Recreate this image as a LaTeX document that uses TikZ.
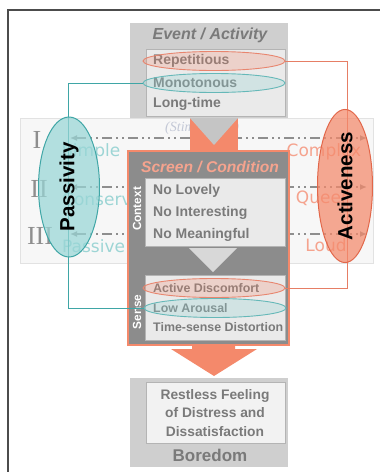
\documentclass[tikz,border=0pt]{standalone}
\usepackage{fontspec}
\setmainfont{Liberation Sans}
\newfontfamily\numfont{Liberation Serif}
\newfontfamily\widesans{DejaVu Sans}
\usepackage{xcolor}
\usepackage{tikz}
\usetikzlibrary{shapes.geometric,arrows.meta}

\definecolor{salmon}{HTML}{F4896B}
\definecolor{salmondark}{HTML}{E2674A}
\definecolor{salmonpale}{HTML}{F5A38E}
\definecolor{tealfill}{HTML}{98D6D6}
\definecolor{tealdark}{HTML}{3FA6A6}
\definecolor{tealpale}{HTML}{9DD5D5}
\definecolor{boxgray}{HTML}{CFCFCF}
\definecolor{innergray}{HTML}{EAEAEA}
\definecolor{innerline}{HTML}{B4B4B4}
\definecolor{darkbox}{HTML}{8C8C8C}
\definecolor{txtgray}{HTML}{7A7A7A}
\definecolor{bandfill}{HTML}{F7F7F7}
\definecolor{bandline}{HTML}{E2E2E2}
\definecolor{stimcol}{HTML}{C3C8D6}
\definecolor{levelgray}{HTML}{8E8E8E}

\newcommand{\setfs}[1]{\fontsize{#1}{#1}\selectfont}

\tikzset{
  itemtext/.style={anchor=west, inner sep=0pt, text=txtgray, font={\bfseries\setfs{14}}},
  sensetext/.style={anchor=west, inner sep=0pt, text=txtgray, font={\bfseries\setfs{12.4}}},
  titletext/.style={inner sep=0pt, text=txtgray, font={\bfseries\itshape\setfs{16}}},
  innerbox/.style={draw=innerline, fill=innergray, line width=0.8pt},
  redring/.style={ellipse, draw=salmondark!80, fill=salmon, fill opacity=0.25, line width=0.9pt, minimum width=142pt, minimum height=19pt, inner sep=0pt},
  tealring/.style={ellipse, draw=tealdark!80, fill=tealfill, fill opacity=0.3, line width=0.9pt, minimum width=142pt, minimum height=19pt, inner sep=0pt},
  numeral/.style={inner sep=0pt, text=levelgray, font={\numfont\setfs{26}}},
  levelline/.style={levelgray, line width=1.4pt, dash pattern=on 10pt off 4pt on 2pt off 4pt on 2pt off 4pt, {Latex[length=7pt,width=6pt]}-{Latex[length=7pt,width=6pt]}},
  passlabel/.style={anchor=west, inner sep=0pt, text=tealpale, font={\widesans\setfs{17}}},
  actlabel/.style={inner sep=0pt, text=salmonpale, font={\widesans\setfs{17}}},
  sidetag/.style={rotate=90, inner sep=0pt, text=white, font={\bfseries\setfs{11.8}}},
  sidering/.style={ellipse, rotate=90, line width=1pt, fill opacity=0.72, text opacity=1, inner sep=0pt, font={\bfseries\setfs{20.5}}},
  teallink/.style={tealdark, line width=0.9pt},
  redlink/.style={salmondark!85, line width=0.9pt}
}

\begin{document}
\begin{tikzpicture}[x=1pt,y=-1pt]
\useasboundingbox (0,0) rectangle (380,472);
% frame and band
\draw[black!70, line width=1.2pt] (8,472) -- (8,10) -- (380,10);
\draw[bandline, fill=bandfill] (20,118) rectangle (373,263);

% levels
\node[numeral] (one) at (37,140) {I};
\node[numeral] (two) at (39,189) {II};
\node[numeral] (three) at (40,236) {III};
\coordinate (l1) at (70,138);
\coordinate (r1) at (367,138);
\coordinate (l2) at (70,187);
\coordinate (r2) at (367,187);
\coordinate (l3) at (70,234);
\coordinate (r3) at (367,234);
\draw[levelline] (l1) -- (r1);
\draw[levelline] (l2) -- (r2);
\draw[levelline] (l3) -- (r3);

\node[passlabel] (simple) at (62,152) {Simple};
\node[passlabel] (conserv) at (62,199) {Conservative};
\node[passlabel] (passive) at (62,246) {Passive};
\node[actlabel] (complex) at (324,152) {Complex};
\node[actlabel] (queer) at (322,198) {Queer};
\node[actlabel] (loud) at (326,245) {Loud};
\node[anchor=west, inner sep=0pt, text=stimcol, font={\numfont\itshape\setfs{14}}] (stim) at (165,128) {(Stimulation)};

% event box
\fill[boxgray] (130,23) rectangle (288,118);
\node[titletext] (event) at (210,35) {Event / Activity};
\draw[innerbox] (146,49) rectangle (285,116);
\node[itemtext] (reptxt) at (153,61) {Repetitious};
\node[itemtext] (monotxt) at (153,83) {Monotonous};
\node[itemtext] (longtxt) at (153,104) {Long-time};
\node[redring] (rep) at (214,61) {};
\node[tealring] (mono) at (214,83) {};

% chevron
\fill[salmon] (190,118) rectangle (238,152);
\fill[boxgray!95!black] (190,118) -- (238,118) -- (214,145) -- cycle;

% screen / condition
\draw[salmon, line width=2.4pt, fill=darkbox] (128,151) rectangle (289,345);
\node[inner sep=0pt, text=salmonpale, font={\bfseries\itshape\setfs{15.6}}] (screen) at (210,167) {Screen / Condition};
\draw[innerbox] (145,178) rectangle (285,246);
\node[itemtext] (lovely) at (153,191) {No Lovely};
\node[itemtext] (interest) at (153,213) {No Interesting};
\node[itemtext] (meaning) at (153,235) {No Meaningful};
\node[sidetag] (context) at (137,209) {Context};
\fill[boxgray!80!white] (189,248) -- (237,248) -- (213,272) -- cycle;
\draw[innerbox] (145,275) rectangle (285,340);
\node[sensetext] (disctxt) at (153,288) {Active Discomfort};
\node[sensetext] (lowtxt) at (153,308) {Low Arousal};
\node[sensetext] (timetxt) at (153,327) {Time-sense Distortion};
\node[sidetag] (sense) at (137,312) {Sense};
\node[redring] (disc) at (214,288) {};
\node[tealring] (low) at (215,308) {};

% down arrow
\fill[salmon] (192,345) -- (235,345) -- (235,349) -- (257,349) -- (214,376) -- (171,349) -- (192,349) -- cycle;

% boredom
\fill[boxgray] (130,378) rectangle (288,467);
\draw[innerbox, fill=innergray!60!white] (146,382) rectangle (285,443);
\node[align=center, inner sep=0pt, text=txtgray, font={\bfseries\fontsize{13.8}{18.5}\selectfont}] (restless) at (215,413) {Restless Feeling\\of Distress and\\Dissatisfaction};
\node[inner sep=0pt, text=txtgray, font={\bfseries\setfs{17}}] (boredom) at (210,455) {Boredom};

% links
\coordinate (actx) at (347,0);
\coordinate (pasx) at (68,0);
\draw[redlink] (rep.east) -- (rep.east -| actx) -- (disc.east -| actx) -- (disc.east);
\draw[teallink] (mono.west) -- (mono.west -| pasx) -- (low.west -| pasx) -- (low.west);

% sides
\node[sidering, draw=tealdark, fill=tealfill, minimum width=140pt, minimum height=61pt] (pas) at (69,187) {Passivity};
\node[sidering, draw=salmondark, fill=salmon, minimum width=138pt, minimum height=55pt] (act) at (345,186) {Activeness};
\end{tikzpicture}
\end{document}
